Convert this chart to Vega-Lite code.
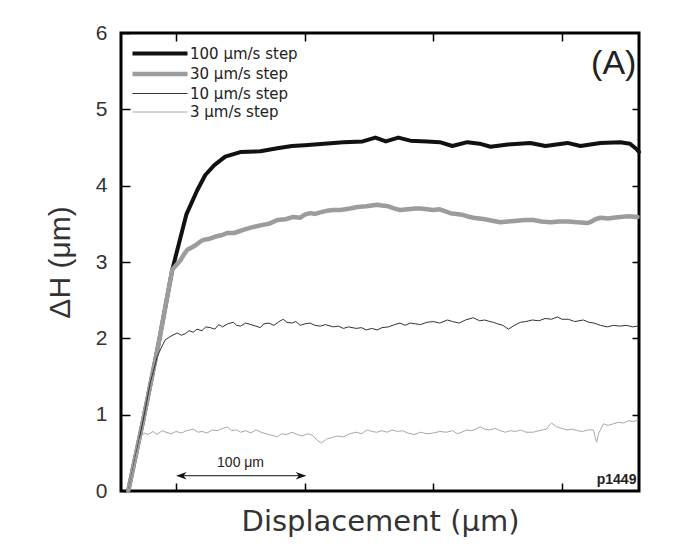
{
  "$schema": "https://vega.github.io/schema/vega-lite/v6.json",
  "autosize": "none",
  "width": 518,
  "height": 458,
  "padding": {"left": 121, "top": 33, "right": 44, "bottom": 53},
  "background": "white",
  "config": {
    "view": {"stroke": "black", "strokeWidth": 3},
    "font": "Liberation Sans",
    "axis": {"grid": false, "domain": false, "tickColor": "black", "tickWidth": 1.5}
  },
  "datasets": {
    "lines": [
      {"s":"100 μm/s step","x":-37.4,"y":0},{"s":"100 μm/s step","x":-25.7,"y":0.93},{"s":"100 μm/s step","x":-14.0,"y":1.91},{"s":"100 μm/s step","x":-3.1,"y":2.9},{"s":"100 μm/s step","x":7.8,"y":3.62},{"s":"100 μm/s step","x":16.3,"y":3.94},{"s":"100 μm/s step","x":22.6,"y":4.14},{"s":"100 μm/s step","x":29.6,"y":4.27},{"s":"100 μm/s step","x":38.1,"y":4.38},{"s":"100 μm/s step","x":49.8,"y":4.44},{"s":"100 μm/s step","x":65.4,"y":4.45},{"s":"100 μm/s step","x":78.6,"y":4.49},{"s":"100 μm/s step","x":90,"y":4.52},{"s":"100 μm/s step","x":100,"y":4.53},{"s":"100 μm/s step","x":115,"y":4.55},{"s":"100 μm/s step","x":130,"y":4.57},{"s":"100 μm/s step","x":145,"y":4.58},{"s":"100 μm/s step","x":154.9,"y":4.63},{"s":"100 μm/s step","x":163,"y":4.58},{"s":"100 μm/s step","x":172.8,"y":4.63},{"s":"100 μm/s step","x":182,"y":4.59},{"s":"100 μm/s step","x":195,"y":4.58},{"s":"100 μm/s step","x":205,"y":4.57},{"s":"100 μm/s step","x":214.8,"y":4.52},{"s":"100 μm/s step","x":226.5,"y":4.57},{"s":"100 μm/s step","x":236,"y":4.55},{"s":"100 μm/s step","x":244.4,"y":4.51},{"s":"100 μm/s step","x":258,"y":4.54},{"s":"100 μm/s step","x":275.5,"y":4.56},{"s":"100 μm/s step","x":287.2,"y":4.52},{"s":"100 μm/s step","x":304.3,"y":4.56},{"s":"100 μm/s step","x":314.4,"y":4.52},{"s":"100 μm/s step","x":330,"y":4.56},{"s":"100 μm/s step","x":345.5,"y":4.57},{"s":"100 μm/s step","x":353,"y":4.55},{"s":"100 μm/s step","x":358,"y":4.48},{"s":"100 μm/s step","x":360,"y":4.44},

      {"s":"30 μm/s step","x":-37.4,"y":0},{"s":"30 μm/s step","x":-25.7,"y":0.93},{"s":"30 μm/s step","x":-14,"y":1.91},{"s":"30 μm/s step","x":-3.1,"y":2.9},{"s":"30 μm/s step","x":0,"y":2.96},{"s":"30 μm/s step","x":3.1,"y":3.02},{"s":"30 μm/s step","x":6,"y":3.1},{"s":"30 μm/s step","x":8.6,"y":3.16},{"s":"30 μm/s step","x":12,"y":3.19},{"s":"30 μm/s step","x":15,"y":3.22},{"s":"30 μm/s step","x":18,"y":3.26},{"s":"30 μm/s step","x":21,"y":3.29},{"s":"30 μm/s step","x":25,"y":3.3},{"s":"30 μm/s step","x":30,"y":3.33},{"s":"30 μm/s step","x":35,"y":3.35},{"s":"30 μm/s step","x":39.7,"y":3.38},{"s":"30 μm/s step","x":45,"y":3.38},{"s":"30 μm/s step","x":52.1,"y":3.42},{"s":"30 μm/s step","x":58,"y":3.45},{"s":"30 μm/s step","x":65.4,"y":3.48},{"s":"30 μm/s step","x":72,"y":3.5},{"s":"30 μm/s step","x":78.6,"y":3.55},{"s":"30 μm/s step","x":85,"y":3.56},{"s":"30 μm/s step","x":91.1,"y":3.59},{"s":"30 μm/s step","x":96.5,"y":3.58},{"s":"30 μm/s step","x":100,"y":3.62},{"s":"30 μm/s step","x":104.3,"y":3.64},{"s":"30 μm/s step","x":108,"y":3.63},{"s":"30 μm/s step","x":112,"y":3.65},{"s":"30 μm/s step","x":117,"y":3.67},{"s":"30 μm/s step","x":122.2,"y":3.68},{"s":"30 μm/s step","x":128,"y":3.68},{"s":"30 μm/s step","x":135,"y":3.7},{"s":"30 μm/s step","x":141,"y":3.72},{"s":"30 μm/s step","x":148,"y":3.73},{"s":"30 μm/s step","x":152,"y":3.74},{"s":"30 μm/s step","x":156.4,"y":3.75},{"s":"30 μm/s step","x":160,"y":3.74},{"s":"30 μm/s step","x":165,"y":3.73},{"s":"30 μm/s step","x":170,"y":3.7},{"s":"30 μm/s step","x":174.3,"y":3.68},{"s":"30 μm/s step","x":180,"y":3.69},{"s":"30 μm/s step","x":186,"y":3.7},{"s":"30 μm/s step","x":190,"y":3.7},{"s":"30 μm/s step","x":195,"y":3.69},{"s":"30 μm/s step","x":200,"y":3.68},{"s":"30 μm/s step","x":205,"y":3.69},{"s":"30 μm/s step","x":210,"y":3.66},{"s":"30 μm/s step","x":213.2,"y":3.64},{"s":"30 μm/s step","x":218,"y":3.63},{"s":"30 μm/s step","x":222,"y":3.62},{"s":"30 μm/s step","x":226,"y":3.6},{"s":"30 μm/s step","x":231.1,"y":3.58},{"s":"30 μm/s step","x":236,"y":3.57},{"s":"30 μm/s step","x":240,"y":3.56},{"s":"30 μm/s step","x":246,"y":3.54},{"s":"30 μm/s step","x":252.1,"y":3.52},{"s":"30 μm/s step","x":258,"y":3.53},{"s":"30 μm/s step","x":265,"y":3.54},{"s":"30 μm/s step","x":271,"y":3.55},{"s":"30 μm/s step","x":277.8,"y":3.55},{"s":"30 μm/s step","x":284,"y":3.53},{"s":"30 μm/s step","x":291.1,"y":3.52},{"s":"30 μm/s step","x":298,"y":3.53},{"s":"30 μm/s step","x":305,"y":3.53},{"s":"30 μm/s step","x":312,"y":3.52},{"s":"30 μm/s step","x":319.8,"y":3.51},{"s":"30 μm/s step","x":323,"y":3.53},{"s":"30 μm/s step","x":326,"y":3.56},{"s":"30 μm/s step","x":330,"y":3.58},{"s":"30 μm/s step","x":336,"y":3.57},{"s":"30 μm/s step","x":340,"y":3.58},{"s":"30 μm/s step","x":345.5,"y":3.59},{"s":"30 μm/s step","x":352,"y":3.6},{"s":"30 μm/s step","x":358.8,"y":3.59},

      {"s":"10 μm/s step","x":-37.4,"y":0},{"s":"10 μm/s step","x":-25.7,"y":0.93},{"s":"10 μm/s step","x":-20.2,"y":1.42},{"s":"10 μm/s step","x":-14.8,"y":1.76},{"s":"10 μm/s step","x":-11,"y":1.9},{"s":"10 μm/s step","x":-8.6,"y":1.98},{"s":"10 μm/s step","x":-4,"y":2.03},{"s":"10 μm/s step","x":0.8,"y":2.07},{"s":"10 μm/s step","x":4,"y":2.04},{"s":"10 μm/s step","x":7,"y":2.06},{"s":"10 μm/s step","x":10,"y":2.1},{"s":"10 μm/s step","x":13.2,"y":2.08},{"s":"10 μm/s step","x":16,"y":2.12},{"s":"10 μm/s step","x":20,"y":2.1},{"s":"10 μm/s step","x":23,"y":2.15},{"s":"10 μm/s step","x":26.5,"y":2.14},{"s":"10 μm/s step","x":30,"y":2.12},{"s":"10 μm/s step","x":33,"y":2.18},{"s":"10 μm/s step","x":36,"y":2.15},{"s":"10 μm/s step","x":40,"y":2.19},{"s":"10 μm/s step","x":44.4,"y":2.21},{"s":"10 μm/s step","x":47,"y":2.17},{"s":"10 μm/s step","x":50,"y":2.16},{"s":"10 μm/s step","x":54,"y":2.2},{"s":"10 μm/s step","x":58,"y":2.18},{"s":"10 μm/s step","x":62,"y":2.16},{"s":"10 μm/s step","x":65.4,"y":2.14},{"s":"10 μm/s step","x":68,"y":2.19},{"s":"10 μm/s step","x":72,"y":2.2},{"s":"10 μm/s step","x":76,"y":2.17},{"s":"10 μm/s step","x":80,"y":2.22},{"s":"10 μm/s step","x":83.3,"y":2.25},{"s":"10 μm/s step","x":86,"y":2.21},{"s":"10 μm/s step","x":90,"y":2.2},{"s":"10 μm/s step","x":93,"y":2.22},{"s":"10 μm/s step","x":96.5,"y":2.17},{"s":"10 μm/s step","x":100,"y":2.19},{"s":"10 μm/s step","x":104,"y":2.2},{"s":"10 μm/s step","x":108,"y":2.17},{"s":"10 μm/s step","x":112,"y":2.16},{"s":"10 μm/s step","x":116,"y":2.18},{"s":"10 μm/s step","x":122.2,"y":2.15},{"s":"10 μm/s step","x":126,"y":2.16},{"s":"10 μm/s step","x":130,"y":2.13},{"s":"10 μm/s step","x":134,"y":2.15},{"s":"10 μm/s step","x":140,"y":2.13},{"s":"10 μm/s step","x":144,"y":2.14},{"s":"10 μm/s step","x":148,"y":2.11},{"s":"10 μm/s step","x":152,"y":2.13},{"s":"10 μm/s step","x":156.4,"y":2.11},{"s":"10 μm/s step","x":160,"y":2.14},{"s":"10 μm/s step","x":165,"y":2.15},{"s":"10 μm/s step","x":170,"y":2.18},{"s":"10 μm/s step","x":174,"y":2.2},{"s":"10 μm/s step","x":178,"y":2.17},{"s":"10 μm/s step","x":182.1,"y":2.2},{"s":"10 μm/s step","x":186,"y":2.19},{"s":"10 μm/s step","x":190,"y":2.18},{"s":"10 μm/s step","x":195,"y":2.21},{"s":"10 μm/s step","x":200,"y":2.22},{"s":"10 μm/s step","x":205,"y":2.2},{"s":"10 μm/s step","x":210.9,"y":2.24},{"s":"10 μm/s step","x":215,"y":2.22},{"s":"10 μm/s step","x":220,"y":2.2},{"s":"10 μm/s step","x":225,"y":2.24},{"s":"10 μm/s step","x":231.1,"y":2.27},{"s":"10 μm/s step","x":236,"y":2.23},{"s":"10 μm/s step","x":240,"y":2.24},{"s":"10 μm/s step","x":244,"y":2.22},{"s":"10 μm/s step","x":246.7,"y":2.21},{"s":"10 μm/s step","x":250,"y":2.19},{"s":"10 μm/s step","x":254,"y":2.17},{"s":"10 μm/s step","x":258.4,"y":2.12},{"s":"10 μm/s step","x":262,"y":2.16},{"s":"10 μm/s step","x":267.7,"y":2.21},{"s":"10 μm/s step","x":272,"y":2.22},{"s":"10 μm/s step","x":277,"y":2.24},{"s":"10 μm/s step","x":282,"y":2.23},{"s":"10 μm/s step","x":287,"y":2.26},{"s":"10 μm/s step","x":292,"y":2.25},{"s":"10 μm/s step","x":296.5,"y":2.28},{"s":"10 μm/s step","x":300,"y":2.25},{"s":"10 μm/s step","x":305,"y":2.25},{"s":"10 μm/s step","x":310,"y":2.22},{"s":"10 μm/s step","x":316.7,"y":2.24},{"s":"10 μm/s step","x":321,"y":2.21},{"s":"10 μm/s step","x":325,"y":2.2},{"s":"10 μm/s step","x":330,"y":2.17},{"s":"10 μm/s step","x":335.4,"y":2.15},{"s":"10 μm/s step","x":340,"y":2.17},{"s":"10 μm/s step","x":345,"y":2.16},{"s":"10 μm/s step","x":350,"y":2.17},{"s":"10 μm/s step","x":355,"y":2.15},{"s":"10 μm/s step","x":358.8,"y":2.16},

      {"s":"3 μm/s step","x":-37.4,"y":0},{"s":"3 μm/s step","x":-28,"y":0.7},{"s":"3 μm/s step","x":-25,"y":0.76},{"s":"3 μm/s step","x":-22,"y":0.74},{"s":"3 μm/s step","x":-18,"y":0.78},{"s":"3 μm/s step","x":-15,"y":0.74},{"s":"3 μm/s step","x":-11,"y":0.79},{"s":"3 μm/s step","x":-8,"y":0.77},{"s":"3 μm/s step","x":-4,"y":0.75},{"s":"3 μm/s step","x":0,"y":0.78},{"s":"3 μm/s step","x":4,"y":0.76},{"s":"3 μm/s step","x":8,"y":0.79},{"s":"3 μm/s step","x":13.2,"y":0.81},{"s":"3 μm/s step","x":17,"y":0.77},{"s":"3 μm/s step","x":20,"y":0.78},{"s":"3 μm/s step","x":24,"y":0.76},{"s":"3 μm/s step","x":28,"y":0.8},{"s":"3 μm/s step","x":32,"y":0.79},{"s":"3 μm/s step","x":36,"y":0.82},{"s":"3 μm/s step","x":39.7,"y":0.84},{"s":"3 μm/s step","x":43,"y":0.79},{"s":"3 μm/s step","x":47,"y":0.8},{"s":"3 μm/s step","x":50,"y":0.77},{"s":"3 μm/s step","x":54,"y":0.79},{"s":"3 μm/s step","x":58,"y":0.76},{"s":"3 μm/s step","x":62,"y":0.8},{"s":"3 μm/s step","x":66,"y":0.77},{"s":"3 μm/s step","x":70,"y":0.75},{"s":"3 μm/s step","x":74,"y":0.73},{"s":"3 μm/s step","x":78.6,"y":0.71},{"s":"3 μm/s step","x":82,"y":0.75},{"s":"3 μm/s step","x":86,"y":0.74},{"s":"3 μm/s step","x":90,"y":0.77},{"s":"3 μm/s step","x":94,"y":0.74},{"s":"3 μm/s step","x":98,"y":0.72},{"s":"3 μm/s step","x":102,"y":0.75},{"s":"3 μm/s step","x":106,"y":0.73},{"s":"3 μm/s step","x":110,"y":0.66},{"s":"3 μm/s step","x":113,"y":0.63},{"s":"3 μm/s step","x":117,"y":0.68},{"s":"3 μm/s step","x":121,"y":0.7},{"s":"3 μm/s step","x":125,"y":0.72},{"s":"3 μm/s step","x":130,"y":0.71},{"s":"3 μm/s step","x":135,"y":0.75},{"s":"3 μm/s step","x":140,"y":0.77},{"s":"3 μm/s step","x":144,"y":0.75},{"s":"3 μm/s step","x":148.6,"y":0.8},{"s":"3 μm/s step","x":152,"y":0.78},{"s":"3 μm/s step","x":156,"y":0.77},{"s":"3 μm/s step","x":160,"y":0.79},{"s":"3 μm/s step","x":164,"y":0.77},{"s":"3 μm/s step","x":168,"y":0.8},{"s":"3 μm/s step","x":172,"y":0.78},{"s":"3 μm/s step","x":176,"y":0.79},{"s":"3 μm/s step","x":180,"y":0.76},{"s":"3 μm/s step","x":185,"y":0.74},{"s":"3 μm/s step","x":190,"y":0.77},{"s":"3 μm/s step","x":195,"y":0.75},{"s":"3 μm/s step","x":200,"y":0.76},{"s":"3 μm/s step","x":205,"y":0.78},{"s":"3 μm/s step","x":210,"y":0.77},{"s":"3 μm/s step","x":215,"y":0.79},{"s":"3 μm/s step","x":218.7,"y":0.75},{"s":"3 μm/s step","x":222,"y":0.77},{"s":"3 μm/s step","x":226,"y":0.8},{"s":"3 μm/s step","x":230,"y":0.79},{"s":"3 μm/s step","x":236.6,"y":0.84},{"s":"3 μm/s step","x":240,"y":0.81},{"s":"3 μm/s step","x":244,"y":0.8},{"s":"3 μm/s step","x":248,"y":0.82},{"s":"3 μm/s step","x":252,"y":0.79},{"s":"3 μm/s step","x":256,"y":0.77},{"s":"3 μm/s step","x":260,"y":0.79},{"s":"3 μm/s step","x":264,"y":0.78},{"s":"3 μm/s step","x":268,"y":0.8},{"s":"3 μm/s step","x":272,"y":0.77},{"s":"3 μm/s step","x":277.8,"y":0.77},{"s":"3 μm/s step","x":282,"y":0.79},{"s":"3 μm/s step","x":287.9,"y":0.81},{"s":"3 μm/s step","x":290,"y":0.86},{"s":"3 μm/s step","x":292,"y":0.89},{"s":"3 μm/s step","x":296,"y":0.84},{"s":"3 μm/s step","x":300,"y":0.82},{"s":"3 μm/s step","x":304,"y":0.8},{"s":"3 μm/s step","x":308,"y":0.81},{"s":"3 μm/s step","x":312,"y":0.79},{"s":"3 μm/s step","x":316,"y":0.78},{"s":"3 μm/s step","x":320,"y":0.8},{"s":"3 μm/s step","x":324.5,"y":0.8},{"s":"3 μm/s step","x":326,"y":0.7},{"s":"3 μm/s step","x":327,"y":0.64},{"s":"3 μm/s step","x":328.5,"y":0.75},{"s":"3 μm/s step","x":332.3,"y":0.88},{"s":"3 μm/s step","x":336,"y":0.86},{"s":"3 μm/s step","x":340,"y":0.88},{"s":"3 μm/s step","x":344,"y":0.9},{"s":"3 μm/s step","x":348,"y":0.89},{"s":"3 μm/s step","x":352,"y":0.92},{"s":"3 μm/s step","x":356,"y":0.91},{"s":"3 μm/s step","x":358.8,"y":0.93}
    ]
  },
  "resolve": {"axis": {"x": "independent", "y": "independent"}},
  "layer": [
    {
      "data": {"name": "lines"},
      "mark": {"type": "line", "strokeJoin": "round", "strokeCap": "round"},
      "encoding": {
        "x": {"field": "x", "type": "quantitative",
              "scale": {"domain": [-43, 360], "nice": false, "zero": false},
              "axis": {"orient": "bottom", "values": [0, 100, 200, 300], "labels": false, "tickSize": -8,
                       "title": "Displacement (μm)", "titleFont": "DejaVu Sans", "titleFontSize": 29, "titleFontWeight": "normal",
                       "titleColor": "#333", "titlePadding": 16}},
        "y": {"field": "y", "type": "quantitative",
              "scale": {"domain": [0, 6], "nice": false},
              "axis": {"orient": "left", "values": [0, 1, 2, 3, 4, 5, 6], "tickSize": -9,
                       "labelFontSize": 21, "labelColor": "#333", "labelPadding": 23,
                       "title": "ΔH (μm)", "titleFontSize": 30, "titleFontWeight": "normal",
                       "titleColor": "#333", "titlePadding": 20}},
        "color": {"field": "s", "type": "nominal",
                  "scale": {"domain": ["100 μm/s step", "30 μm/s step", "10 μm/s step", "3 μm/s step"],
                            "range": ["#111111", "#9a9ca0", "#333333", "#a8a8a8"]},
                  "legend": {"orient": "none", "legendX": 54, "legendY": 13, "title": null,
                             "symbolType": "M-10,0H1", "symbolSize": 100, "symbolFillColor": "transparent",
                             "labelFont": "DejaVu Sans", "labelFontSize": 15, "labelColor": "#222", "labelOffset": 0, "rowPadding": 2.5}},
        "strokeWidth": {"field": "s", "type": "nominal",
                  "scale": {"type": "ordinal", "domain": ["100 μm/s step", "30 μm/s step", "10 μm/s step", "3 μm/s step"],
                            "range": [4, 4.5, 1, 1]},
                  "legend": {"orient": "none", "legendX": 54, "legendY": 13, "title": null,
                             "symbolType": "M-10,0H1", "symbolSize": 100, "symbolFillColor": "transparent",
                             "labelFont": "DejaVu Sans", "labelFontSize": 15, "labelColor": "#222", "labelOffset": 0, "rowPadding": 2.5}}
      }
    },
    {
      "data": {"values": [{}]},
      "mark": {"type": "text", "font": "Liberation Sans", "fontSize": 34, "align": "right", "baseline": "middle", "color": "#222"},
      "encoding": {
        "x": {"datum": 358, "type": "quantitative",
              "axis": {"orient": "top", "values": [0, 100, 200, 300], "labels": false, "tickSize": -8, "title": null}},
        "y": {"datum": 5.6, "type": "quantitative",
              "axis": {"orient": "right", "values": [1, 2, 3, 4, 5], "labels": false, "tickSize": -7, "title": null}},
        "text": {"value": "(A)"}
      }
    },
    {
      "data": {"values": [{}]},
      "mark": {"type": "text", "fontSize": 14, "fontWeight": "bold", "align": "right", "baseline": "middle", "color": "#222"},
      "encoding": {
        "x": {"datum": 358, "type": "quantitative", "axis": null},
        "y": {"datum": 0.14, "type": "quantitative", "axis": null},
        "text": {"value": "p1449"}
      }
    },
    {
      "data": {"values": [{}]},
      "mark": {"type": "text", "fontSize": 14, "align": "center", "baseline": "middle", "color": "#222"},
      "encoding": {
        "x": {"datum": 50, "type": "quantitative", "axis": null},
        "y": {"datum": 0.37, "type": "quantitative", "axis": null},
        "text": {"value": "100 μm"}
      }
    },
    {
      "data": {"values": [{}]},
      "mark": {"type": "rule", "color": "#111", "strokeWidth": 1},
      "encoding": {
        "x": {"datum": 1, "type": "quantitative", "axis": null},
        "x2": {"datum": 100},
        "y": {"datum": 0.2, "type": "quantitative", "axis": null}
      }
    },
    {
      "data": {"values": [{}]},
      "mark": {"type": "point", "filled": true, "color": "#111", "opacity": 1, "size": 110, "shape": "M-1,0L1,-0.7L0.4,0L1,0.7Z"},
      "encoding": {
        "x": {"datum": 4, "type": "quantitative", "axis": null},
        "y": {"datum": 0.2, "type": "quantitative", "axis": null}
      }
    },
    {
      "data": {"values": [{}]},
      "mark": {"type": "point", "filled": true, "color": "#111", "opacity": 1, "size": 110, "shape": "M1,0L-1,-0.7L-0.4,0L-1,0.7Z"},
      "encoding": {
        "x": {"datum": 97, "type": "quantitative", "axis": null},
        "y": {"datum": 0.2, "type": "quantitative", "axis": null}
      }
    }
  ]
}
